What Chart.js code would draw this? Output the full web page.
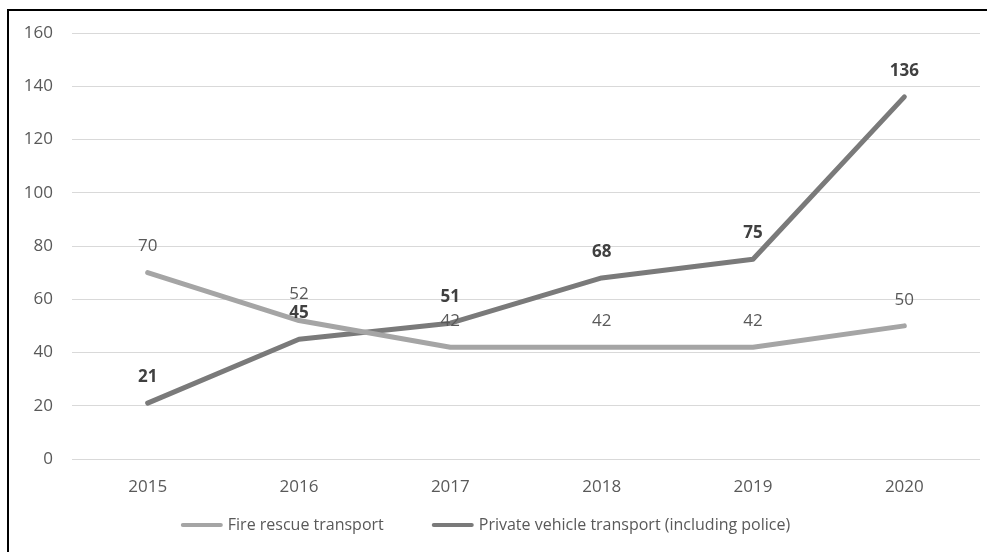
<!DOCTYPE html>
<html>
<head>
<meta charset="utf-8">
<script src="https://cdn.jsdelivr.net/npm/chart.js@4/dist/chart.umd.min.js"></script>
<style>
  html, body { margin: 0; padding: 0; background: #ffffff; }
  #wrap { position: relative; width: 987px; height: 552px; }
  #frame {
    position: absolute; left: 7px; top: 9px; right: 0; bottom: 0;
    border-left: 2px solid #000; border-top: 2px solid #000;
    pointer-events: none;
  }
  canvas { display: block; }
</style>
</head>
<body>
<div id="wrap">
  <canvas id="chart" width="987" height="552"></canvas>
  <div id="frame"></div>
</div>
<script>
// Yearly counts by transport mode
const years = ['2015', '2016', '2017', '2018', '2019', '2020'];
const fireRescue = [70, 52, 42, 42, 42, 50];
const privateVehicle = [21, 45, 51, 68, 75, 136];
const yTicks = [0, 20, 40, 60, 80, 100, 120, 140, 160];

const FONT = '"Open Sans", "Noto Sans", sans-serif';
const TEXT = '#595959';

// Writes each point's value just above it
const valueLabels = {
  id: 'valueLabels',
  afterDatasetsDraw(chart) {
    const ctx = chart.ctx;
    chart.data.datasets.forEach((ds, i) => {
      const meta = chart.getDatasetMeta(i);
      ctx.save();
      ctx.font = (ds.labelBold ? 'bold ' : '') + '17px ' + FONT;
      ctx.fillStyle = ds.labelColor;
      ctx.textAlign = 'center';
      ctx.textBaseline = 'middle';
      meta.data.forEach((pt, j) => {
        ctx.fillText(String(ds.data[j]), pt.x, pt.y - 26);
      });
      ctx.restore();
    });
  }
};

// Bottom legend: a short thick line swatch followed by the series name
const lineLegend = {
  id: 'lineLegend',
  afterDraw(chart) {
    const ctx = chart.ctx;
    const swatch = 42, swGap = 5, itemGap = 48;
    ctx.save();
    ctx.font = '16px ' + FONT;
    const items = chart.data.datasets.map(ds => ({
      text: ds.label, color: ds.borderColor, w: ctx.measureText(ds.label).width
    }));
    const total = items.reduce((s, it) => s + swatch + swGap + it.w, 0) + itemGap * (items.length - 1);
    let x = chart.width / 2 - 8 - total / 2;
    const y = 525;
    ctx.textBaseline = 'middle';
    ctx.textAlign = 'left';
    items.forEach(it => {
      ctx.strokeStyle = it.color;
      ctx.lineWidth = 4;
      ctx.lineCap = 'round';
      ctx.beginPath();
      ctx.moveTo(x + 2, y);
      ctx.lineTo(x + swatch - 2, y);
      ctx.stroke();
      ctx.fillStyle = TEXT;
      ctx.fillText(it.text, x + swatch + swGap, y);
      x += swatch + swGap + it.w + itemGap;
    });
    ctx.restore();
  }
};

new Chart(document.getElementById('chart'), {
  type: 'line',
  data: {
    labels: years,
    datasets: [
      {
        label: 'Fire rescue transport',
        data: fireRescue,
        borderColor: '#a5a5a5',
        backgroundColor: '#a5a5a5',
        borderWidth: 5,
        borderCapStyle: 'round',
        borderJoinStyle: 'round',
        pointRadius: 0,
        tension: 0,
        labelColor: '#595959',
        labelBold: false
      },
      {
        label: 'Private vehicle transport (including police)',
        data: privateVehicle,
        borderColor: '#7a7a7a',
        backgroundColor: '#7a7a7a',
        borderWidth: 5,
        borderCapStyle: 'round',
        borderJoinStyle: 'round',
        pointRadius: 0,
        tension: 0,
        labelColor: '#404040',
        labelBold: true
      }
    ]
  },
  options: {
    responsive: false,
    animation: false,
    layout: { padding: { left: 0, right: 7, top: 33, bottom: 45 } },
    scales: {
      x: {
        offset: true,
        grid: { display: false, drawTicks: false },
        border: { display: false },
        ticks: { color: TEXT, font: { family: FONT, size: 17 }, padding: 18, maxRotation: 0 },
        afterFit(scale) { scale.height = 48; }
      },
      y: {
        min: 0,
        max: 160,
        afterBuildTicks(scale) { scale.ticks = yTicks.map(v => ({ value: v })); },
        grid: { color: '#d9d9d9', lineWidth: 1, drawTicks: false },
        border: { display: false },
        ticks: { color: TEXT, font: { family: FONT, size: 17 }, padding: 19 },
        afterFit(scale) { scale.width = 72; }
      }
    },
    plugins: {
      legend: { display: false },
      tooltip: { enabled: false }
    }
  },
  plugins: [valueLabels, lineLegend]
});
</script>
</body>
</html>
